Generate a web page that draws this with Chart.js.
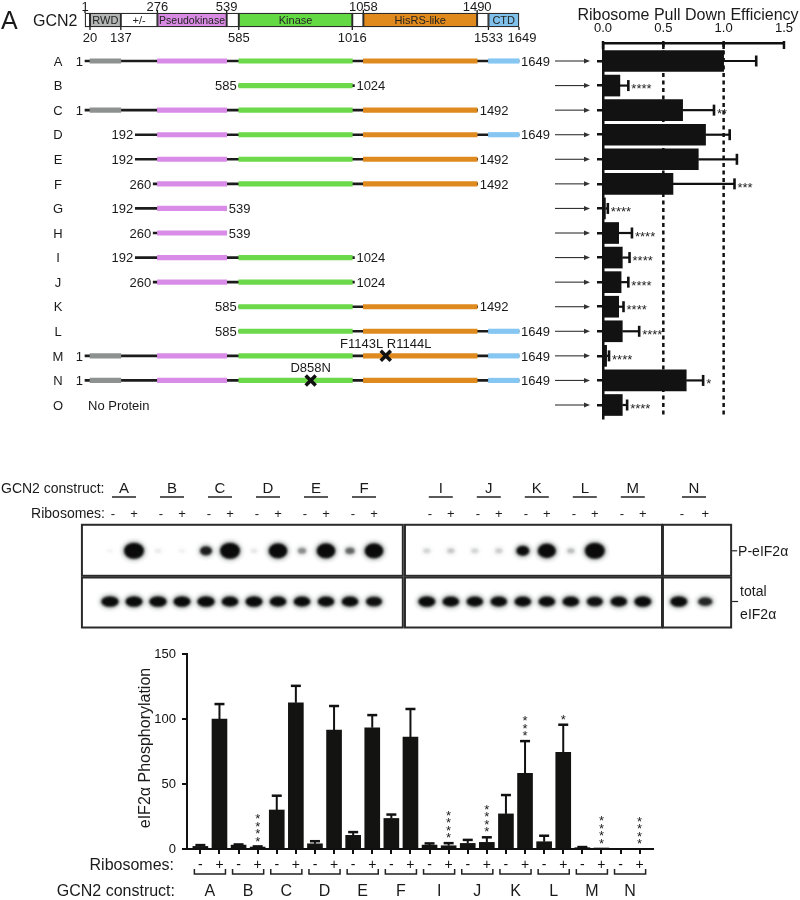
<!DOCTYPE html>
<html><head><meta charset="utf-8">
<script src="https://cdn.jsdelivr.net/npm/chart.js@4"></script>
<style>
body{margin:0;background:#fff;width:800px;height:900px;position:relative;overflow:hidden;}
canvas{position:absolute;}
</style></head><body>
<canvas id="c1" width="600" height="430" style="left:0;top:0"></canvas>
<canvas id="c2" width="260" height="430" style="left:540px;top:0"></canvas>
<canvas id="c3" width="800" height="180" style="left:0;top:470px"></canvas>
<canvas id="c4" width="800" height="270" style="left:0;top:630px"></canvas>
<script>
// ---------------- DATA ----------------
// Panel A: GCN2 domain map (residue numbers)
const domainSegStart = [1, 20, 137, 276, 539, 585, 1016, 1058, 1490, 1533];
const domainSegEnd   = [20, 137, 276, 539, 585, 1016, 1058, 1490, 1533, 1649];
const domainSegLabel = ['', 'RWD', '+/-', 'Pseudokinase', '', 'Kinase', '', 'HisRS-like', '', 'CTD'];
const domainTopTicks = [1, 276, 539, 1058, 1490];
const domainBottomTicks = [20, 137, 585, 1016, 1533, 1649];
// Constructs
const constructNames = ['A','B','C','D','E','F','G','H','I','J','K','L','M','N','O'];
const constructStart = [1, 585, 1, 192, 192, 260, 192, 260, 192, 260, 585, 585, 1, 1, null];
const constructEnd   = [1649, 1024, 1492, 1649, 1492, 1492, 539, 539, 1024, 1024, 1492, 1649, 1649, 1649, null];
const noProteinLabel = 'No Protein';
const mutationRows = ['M', 'N'];
const mutationSites = [1143, 858];
const mutationLabels = ['F1143L R1144L', 'D858N'];
// Ribosome pull down efficiency
const pullDown    = [1.00, 0.14, 0.66, 0.85, 0.79, 0.58, 0.02, 0.13, 0.16, 0.15, 0.13, 0.16, 0.03, 0.69, 0.16];
const pullDownErr = [0.27, 0.07, 0.26, 0.20, 0.32, 0.51, 0.02, 0.11, 0.06, 0.06, 0.04, 0.14, 0.02, 0.14, 0.04];
const pullDownSig = ['', '****', '**', '', '', '***', '****', '****', '****', '****', '****', '****', '****', '*', '****'];
const pullDownTicks = [0, 0.5, 1.0, 1.5];
const pullDownRefLines = [0.5, 1.0];
// Panel B: western blot (relative band intensity per lane, "-" then "+" ribosomes)
const blotPanels = [['A','B','C','D','E','F'], ['I','J','K','L','M'], ['N']];
const pSignal = [0.04,1.0, 0.07,0.05, 0.62,1.0, 0.08,0.95, 0.32,0.95, 0.42,0.95,
                 0.14,0.17, 0.14,0.16, 0.68,0.93, 0.2,1.0, 0,0,
                 0,0];
const totalSignal = [0.97,0.95, 0.97,0.95, 0.97,0.93, 0.95,0.93, 0.93,0.92, 0.93,0.9,
                     0.95,0.93, 0.92,0.92, 0.93,0.93, 0.93,0.9, 0.92,0.95,
                     0.95,0.8];
// eIF2a phosphorylation
const phosConstructs = ['A','B','C','D','E','F','I','J','K','L','M','N'];
const ribosomeLabels = ['-', '+'];
const phosMinus    = [2, 3, 30, 4, 10.5, 23.5, 3, 4.3, 27, 5.6, 1, 0];
const phosMinusErr = [1, 0.5, 11, 2, 2.5, 3, 1.3, 2.7, 14.5, 4.6, 0.5, 0];
const phosPlus     = [100, 1.5, 112.5, 91.5, 93.3, 86, 2.5, 5.1, 58.2, 74.4, 0.5, 0];
const phosPlusErr  = [11.5, 0.5, 13, 18.5, 9.7, 21.7, 2, 3.9, 24.8, 21.2, 0, 0];
const phosSig      = ['', '****', '', '', '', '', '****', '****', '***', '*', '****', '****'];
const phosTicks = [0, 50, 100, 150];

// ---------------- STYLE / LAYOUT ----------------
const FONT = '"Liberation Sans", Arial, Helvetica, sans-serif';
Chart.defaults.font.family = FONT;
const INK = '#1a1a1a';
const domainColors = ['#ffffff','#b3b6b5','#ffffff','#d98be3','#ffffff','#63d944','#ffffff','#e0891c','#ffffff','#80c1ec'];
const constructColors = {1:'#8d9291', 3:'#d98be8', 5:'#6bd94a', 7:'#df8a1e', 9:'#86c6f2'};
const DOMAIN_ROW = -1.669;

function txt(ctx, s, x, y, size, align, color) {
  ctx.save();
  ctx.font = size + 'px ' + FONT;
  ctx.fillStyle = color || INK;
  ctx.textAlign = align || 'left';
  ctx.textBaseline = 'alphabetic';
  ctx.fillText(s, x, y + size * 0.36);
  ctx.restore();
}
function seg(ctx, x1, y1, x2, y2, w, color) {
  ctx.save(); ctx.strokeStyle = color || INK; ctx.lineWidth = w; ctx.beginPath();
  ctx.moveTo(x1, y1); ctx.lineTo(x2, y2); ctx.stroke(); ctx.restore();
}
function star(ctx, x, cy, size) { // asterisk centred at cy
  ctx.save(); ctx.font = size + 'px ' + FONT; ctx.fillStyle = INK; ctx.textAlign = 'center';
  ctx.textBaseline = 'alphabetic'; ctx.fillText('*', x, cy + size * 0.55); ctx.restore();
}
const common = { responsive:false, animation:false, events:[],
  plugins:{ legend:{display:false}, tooltip:{enabled:false} } };

// ---------------- CHART 1: domain map + constructs ----------------
const c1Plugin = { id:'c1text', afterDatasetsDraw(chart) {
  const ctx = chart.ctx, xs = chart.scales.x, ys = chart.scales.y;
  txt(ctx, 'A', 1, 20, 25);
  txt(ctx, 'GCN2', 33, 20, 16);
  const yD = ys.getPixelForValue(DOMAIN_ROW), top = yD - 7, bot = yD + 7;
  domainSegLabel.forEach((l, i) => {
    if (!l) return;
    const cx = (xs.getPixelForValue(domainSegStart[i]) + xs.getPixelForValue(domainSegEnd[i])) / 2;
    txt(ctx, l, cx, yD, l.length > 10 ? 10.5 : 11, 'center', '#222');
  });
  domainTopTicks.forEach(r => { const x = xs.getPixelForValue(r); seg(ctx, x, top, x, top - 3, 1.3);
    txt(ctx, String(r), x, top - 7, 13, 'center'); });
  domainBottomTicks.forEach((r, k) => { const x = xs.getPixelForValue(r); seg(ctx, x, bot, x, bot + 3, 1.3);
    txt(ctx, String(r), x + (k === domainBottomTicks.length - 1 ? 3 : 0), bot + 10, 13, 'center'); });
  constructNames.forEach((n, i) => {
    const y = ys.getPixelForValue(i);
    txt(ctx, n, 58, y, 13, 'center');
    if (constructStart[i] == null) { txt(ctx, noProteinLabel, 88, y, 13, 'left'); return; }
    txt(ctx, String(constructStart[i]), xs.getPixelForValue(constructStart[i]) - 2, y, 13, 'right');
    txt(ctx, String(constructEnd[i]), xs.getPixelForValue(constructEnd[i]) + 2, y, 13, 'left');
  });
  mutationRows.forEach((r, k) => {
    const y = ys.getPixelForValue(constructNames.indexOf(r)), x = xs.getPixelForValue(mutationSites[k]);
    const h = 5;
    seg(ctx, x - h, y - h, x + h, y + h, 3.5, '#111'); seg(ctx, x - h, y + h, x + h, y - h, 3.5, '#111');
    txt(ctx, mutationLabels[k], x, y - 13, 13, 'center');
  });
}};
const backbone = constructNames.map((n, i) => constructStart[i] == null ? null :
  ({x:[constructStart[i], constructEnd[i]], y:i})).filter(Boolean);
const coloredSets = Object.keys(constructColors).map(k => {
  k = +k;
  const data = [];
  constructNames.forEach((n, i) => {
    if (constructStart[i] == null) return;
    const s = Math.max(constructStart[i], domainSegStart[k]), e = Math.min(constructEnd[i], domainSegEnd[k]);
    if (s < e) data.push({x:[s, e], y:i});
  });
  return {data, backgroundColor: constructColors[k], barThickness:4.5, grouped:false, clip:false, order:1};
});
new Chart(document.getElementById('c1'), {
  type:'bar',
  data:{ datasets:[
    {data: domainSegStart.map((s, i) => ({x:[s, domainSegEnd[i]], y:DOMAIN_ROW})),
     backgroundColor: domainColors, borderColor:'#2a2a2a', borderWidth:1.3, borderSkipped:false,
     barThickness:14, grouped:false, clip:false, order:0},
    {data: backbone, backgroundColor:'#1c1c1c', barThickness:2, grouped:false, clip:false, order:5},
    ...coloredSets ]},
  options: Object.assign({}, common, { indexAxis:'y',
    layout:{padding:{left:85, right:81, top:2, bottom:12}},
    scales:{ x:{type:'linear', min:1, max:1649, display:false, offset:false},
             y:{type:'linear', min:-2.401, max:14.529, reverse:true, display:false, offset:false} } }),
  plugins:[c1Plugin]
});

// ---------------- CHART 2: pull down efficiency ----------------
const c2Plugin = { id:'c2', beforeDatasetsDraw(chart) {
  const ctx = chart.ctx, xs = chart.scales.x, a = chart.chartArea;
  ctx.save(); ctx.strokeStyle = '#111'; ctx.lineWidth = 2.5; ctx.setLineDash([4, 3.5]);
  pullDownRefLines.forEach(v => { const x = xs.getPixelForValue(v); ctx.beginPath(); ctx.moveTo(x, a.top); ctx.lineTo(x, a.bottom); ctx.stroke(); });
  ctx.restore();
}, afterDatasetsDraw(chart) {
  const ctx = chart.ctx, xs = chart.scales.x, ys = chart.scales.y, a = chart.chartArea;
  txt(ctx, 'Ribosome Pull Down Efficiency', 148, 14, 16, 'center');
  pullDownTicks.forEach(v => { const x = xs.getPixelForValue(v); seg(ctx, x, a.top - 2, x, a.top + 6, 2.5, '#111'); });
  pullDown.forEach((v, i) => {
    const y = ys.getPixelForValue(i);
    // arrow
    seg(ctx, 15, y, 45, y, 1.1, '#333');
    ctx.save(); ctx.fillStyle = '#333'; ctx.beginPath(); ctx.moveTo(50, y); ctx.lineTo(44, y - 2.5); ctx.lineTo(44, y + 2.5); ctx.closePath(); ctx.fill(); ctx.restore();
    const x0 = xs.getPixelForValue(v), x1 = xs.getPixelForValue(v + pullDownErr[i]);
    seg(ctx, x0, y, x1, y, 2.2, '#111');
    seg(ctx, x1, y - 5.5, x1, y + 5.5, 2.6, '#111');
    if (pullDownSig[i]) txt(ctx, pullDownSig[i], x1 + 3, y + 3, 13, 'left', '#222');
  });
}};
new Chart(document.getElementById('c2'), {
  type:'bar',
  data:{ datasets:[{ data: pullDown.map((v, i) => ({x:v, y:i})), backgroundColor:'#121212', barThickness:21, grouped:false }]},
  options: Object.assign({}, common, { indexAxis:'y',
    layout:{padding:{left:0, right:11, top:0, bottom:12}},
    scales:{
      x:{type:'linear', position:'top', min:0, max:1.5, offset:false,
         afterBuildTicks: ax => { ax.ticks = pullDownTicks.map(v => ({value:v})); },
         ticks:{callback: v => v.toFixed(1), font:{size:13}, color:'#111', padding:7, maxRotation:0, autoSkip:false},
         grid:{display:true, drawOnChartArea:false, drawTicks:false, offset:false},
         border:{display:true, width:2.5, color:'#111'},
         afterFit: s => { s.height = 43; } },
      y:{type:'linear', min:-0.7326, max:14.529, reverse:true, offset:false,
         afterBuildTicks: ax => { ax.ticks = pullDown.map((v, i) => ({value:i})); },
         ticks:{display:false},
         grid:{display:true, drawOnChartArea:false, drawTicks:true, tickLength:6, color:'#111', lineWidth:2.5, offset:false},
         border:{display:true, width:2.5, color:'#111'},
         afterFit: s => { s.width = 63; } } } }),
  plugins:[c2Plugin]
});

// ---------------- CHART 3: western blot ----------------
const panelStart = [0, 13.2, 23.7];
const panelStep = [1, 1, 1.1];
const panelFrame = [[-1.17, 12.2], [12.29, 23.0], [23.04, 25.88]];
const lanes = [];
blotPanels.forEach((p, pi) => p.forEach((c, ci) => { lanes.push(panelStart[pi] + panelStep[pi] * 2 * ci); lanes.push(panelStart[pi] + panelStep[pi] * (2 * ci + 1)); }));
function bandCanvas(I, kind) {
  const c = document.createElement('canvas'); c.width = 44; c.height = 32;
  if (!(I > 0)) return c;
  const g = c.getContext('2d');
  let hw, hh, a;
  if (kind === 'p') { hw = 3.5 + 6.5 * I * I; hh = 2.3 + 5.7 * I * I; a = Math.min(1, 1.6 * Math.pow(I, 1.2)); }
  else { hw = 9 * I; hh = 5.4 * I; a = Math.min(1, 1.08 * I); }
  g.filter = 'blur(2.2px)'; g.fillStyle = 'rgba(40,50,50,' + (a * 0.35) + ')';
  g.beginPath(); g.ellipse(22, 16, hw + 2, hh + 2, 0, 0, Math.PI * 2); g.fill();
  g.filter = 'blur(1.1px)'; g.fillStyle = 'rgba(10,10,10,' + a + ')';
  g.beginPath(); g.ellipse(22, 16, hw, hh, 0, 0, Math.PI * 2); g.fill();
  return c;
}
const pImgs = pSignal.map(v => bandCanvas(v, 'p'));
const tImgs = totalSignal.map(v => bandCanvas(v, 't'));
const c3Plugin = { id:'c3', afterDatasetsDraw(chart) {
  const ctx = chart.ctx, xs = chart.scales.x, ys = chart.scales.y;
  const yP = ys.getPixelForValue(0), yT = ys.getPixelForValue(1);
  panelFrame.forEach(f => {
    const x0 = xs.getPixelForValue(f[0]), x1 = xs.getPixelForValue(f[1]);
    ctx.save(); ctx.strokeStyle = '#2a2a2a'; ctx.lineWidth = 2;
    ctx.strokeRect(x0, yP - 26, x1 - x0, 51);
    ctx.strokeRect(x0, yT - 24, x1 - x0, 50);
    ctx.restore();
  });
  txt(ctx, 'GCN2 construct:', 1, 18, 14, 'left');
  txt(ctx, 'Ribosomes:', 105, 43, 14, 'right');
  let li = 0;
  blotPanels.forEach(p => p.forEach(c => {
    const xa = xs.getPixelForValue(lanes[li]), xb = xs.getPixelForValue(lanes[li + 1]);
    const cx = (xa + xb) / 2 + 2;
    txt(ctx, c, cx, 18, 15, 'center');
    seg(ctx, cx - 12, 27, cx + 12, 27, 1.5, '#222');
    txt(ctx, ribosomeLabels[0], xa + 3, 43, 13, 'center');
    txt(ctx, ribosomeLabels[1], xb, 43, 13, 'center');
    li += 2;
  }));
  const xr = xs.getPixelForValue(panelFrame[2][1]);
  seg(ctx, xr + 1, yP, xr + 6, yP, 1.2, '#222');
  txt(ctx, 'P-eIF2α', xr + 7, yP, 14, 'left');
  seg(ctx, xr + 1, yT, xr + 7, yT, 1.2, '#222');
  txt(ctx, 'total', xr + 9, yT - 11, 14, 'left');
  txt(ctx, 'eIF2α', xr + 9, yT + 12, 14, 'left');
}};
new Chart(document.getElementById('c3'), {
  type:'scatter',
  data:{ datasets:[
    { data: lanes.map(x => ({x, y:0})), pointStyle: c => pImgs[c.dataIndex], pointRadius:6 },
    { data: lanes.map(x => ({x, y:1})), pointStyle: c => tImgs[c.dataIndex], pointRadius:6 } ]},
  options: Object.assign({}, common, {
    layout:{padding:{left:86, right:66, top:0, bottom:0}},
    scales:{ x:{type:'linear', min:-1, max:26, display:false},
             y:{type:'linear', min:-1.4545, max:1.818, reverse:true, display:false} } }),
  plugins:[c3Plugin]
});

// ---------------- CHART 4: eIF2a phosphorylation ----------------
const c4Plugin = { id:'c4', afterDatasetsDraw(chart) {
  const ctx = chart.ctx, xs = chart.scales.x, ys = chart.scales.y;
  const drawErr = (xi, v, e) => {
    if (!(e > 0)) return ys.getPixelForValue(v);
    const x = xs.getPixelForValue(xi), y0 = ys.getPixelForValue(v), y1 = ys.getPixelForValue(v + e);
    seg(ctx, x, y0, x, y1, 2, '#111'); seg(ctx, x - 5, y1, x + 5, y1, 2.5, '#111');
    return y1;
  };
  phosConstructs.forEach((c, i) => {
    drawErr(2 * i, phosMinus[i], phosMinusErr[i]);
    const yt = drawErr(2 * i + 1, phosPlus[i], phosPlusErr[i]);
    const n = phosSig[i].length, xp = xs.getPixelForValue(2 * i + 1);
    for (let k = 0; k < n; k++) star(ctx, xp, yt - 8 - k * 7.5, 13);
    const xa = xs.getPixelForValue(2 * i), xb = xs.getPixelForValue(2 * i + 1);
    ctx.save(); ctx.strokeStyle = '#222'; ctx.lineWidth = 1.5; ctx.beginPath();
    ctx.moveTo(xa - 6, 239); ctx.lineTo(xa - 6, 244); ctx.lineTo(xb + 6, 244); ctx.lineTo(xb + 6, 239); ctx.stroke(); ctx.restore();
    txt(ctx, c, (xa + xb) / 2, 260, 16, 'center');
  });
  txt(ctx, 'Ribosomes:', 174, 234, 16, 'right');
  txt(ctx, 'GCN2 construct:', 175, 260, 16, 'right');
  ctx.save(); ctx.translate(144, 118); ctx.rotate(-Math.PI / 2);
  txt(ctx, 'eIF2α Phosphorylation', 0, 0, 16, 'center'); ctx.restore();
}};
const barColor = '#131412';
new Chart(document.getElementById('c4'), {
  type:'bar',
  data:{ datasets:[
    { data: phosMinus.map((v, i) => ({x:2 * i, y:v})), backgroundColor:barColor, barThickness:15, grouped:false },
    { data: phosPlus.map((v, i) => ({x:2 * i + 1, y:v})), backgroundColor:barColor, barThickness:15, grouped:false } ]},
  options: Object.assign({}, common, {
    layout:{padding:{left:0, right:147, top:24, bottom:0}},
    scales:{
      x:{type:'linear', min:-0.7, max:23.7, offset:false,
         afterBuildTicks: ax => { ax.ticks = phosConstructs.flatMap((c, i) => [{value:2 * i}, {value:2 * i + 1}]); },
         ticks:{autoSkip:false, maxRotation:0, callback: v => ribosomeLabels[v % 2], font:{size:14}, color:'#111', padding:3},
         grid:{display:true, drawOnChartArea:false, tickLength:5, lineWidth:2, color:'#111', offset:false},
         border:{display:true, width:2, color:'#111'},
         afterFit: s => { s.height = 51; } },
      y:{type:'linear', min:0, max:150, offset:false,
         afterBuildTicks: ax => { ax.ticks = phosTicks.map(v => ({value:v})); },
         ticks:{font:{size:13}, color:'#111', padding:6},
         grid:{display:true, drawOnChartArea:false, tickLength:5, lineWidth:2, color:'#111'},
         border:{display:true, width:2, color:'#111'},
         afterFit: s => { s.width = 187; } } } }),
  plugins:[c4Plugin]
});
</script>
</body></html>
